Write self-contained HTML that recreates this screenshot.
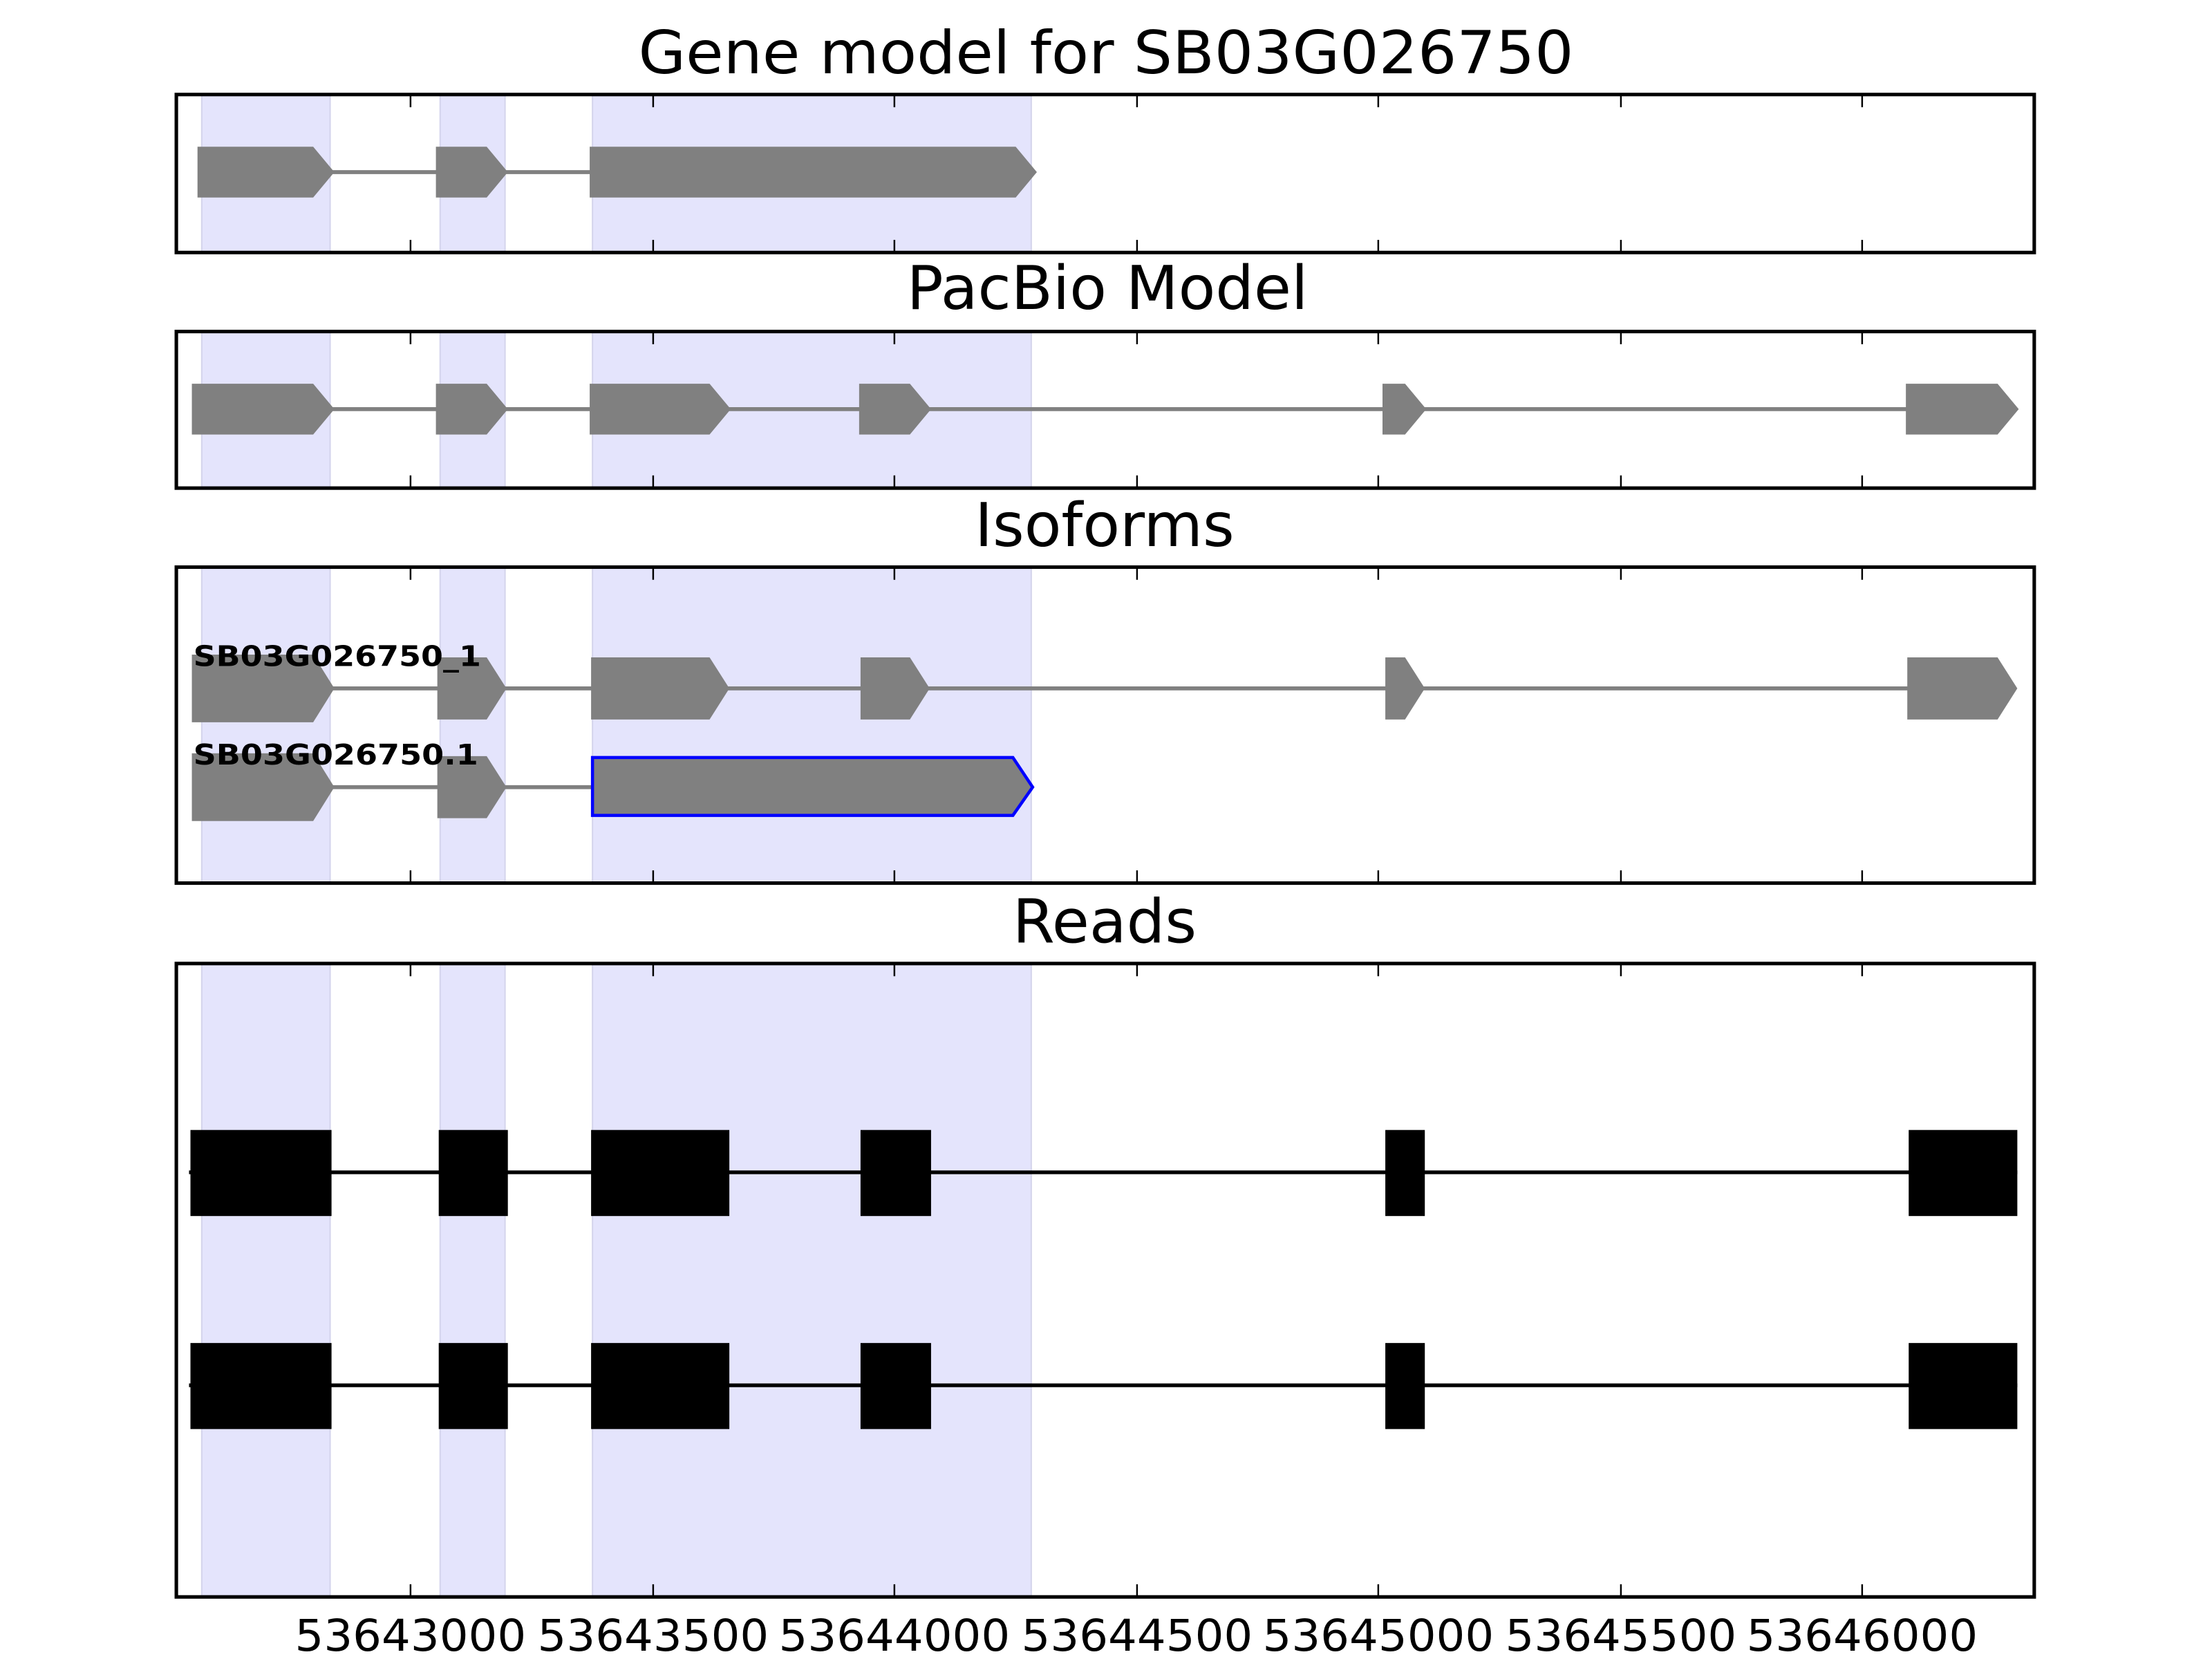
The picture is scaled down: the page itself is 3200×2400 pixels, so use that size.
<!DOCTYPE html>
<html><head><meta charset="utf-8"><style>html,body{margin:0;padding:0;background:#fff}svg{display:block}</style></head>
<body>
<svg width="3200" height="2400" viewBox="0 0 1568 1176" xmlns="http://www.w3.org/2000/svg" font-family="DejaVu Sans, Liberation Sans, sans-serif">
<!-- titles -->
<text x="784" y="52" font-size="42" text-anchor="middle" textLength="663" lengthAdjust="spacingAndGlyphs">Gene model for SB03G026750</text>
<text x="785" y="219" font-size="43" text-anchor="middle">PacBio Model</text>
<text x="783" y="387" font-size="43" text-anchor="middle">Isoforms</text>
<text x="783" y="668" font-size="43" text-anchor="middle">Reads</text>

<!-- bands -->
<g fill="#e4e4fc" stroke="#d4d4ec" stroke-width="1">
<rect x="143" y="67" width="91" height="112"/><rect x="312" y="67" width="46" height="112"/><rect x="420" y="67" width="311" height="112"/>
<rect x="143" y="235" width="91" height="111"/><rect x="312" y="235" width="46" height="111"/><rect x="420" y="235" width="311" height="111"/>
<rect x="143" y="402" width="91" height="224"/><rect x="312" y="402" width="46" height="224"/><rect x="420" y="402" width="311" height="224"/>
<rect x="143" y="683" width="91" height="449"/><rect x="312" y="683" width="46" height="449"/><rect x="420" y="683" width="311" height="449"/>
</g>

<!-- panel 1 -->
<g fill="#808080">
<line x1="230" y1="122" x2="420" y2="122" stroke="#808080" stroke-width="2.8"/>
<polygon points="140,104 222,104 237,122 222,140 140,140"/>
<polygon points="309,104 345,104 360,122 345,140 309,140"/>
<polygon points="418,104 720,104 735,122 720,140 418,140"/>
</g>
<!-- panel 2 -->
<g fill="#808080">
<line x1="230" y1="290" x2="1360" y2="290" stroke="#808080" stroke-width="2.8"/>
<polygon points="136,272 222,272 237,290 222,308 136,308"/>
<polygon points="309,272 345,272 360,290 345,308 309,308"/>
<polygon points="418,272 503,272 518,290 503,308 418,308"/>
<polygon points="609,272 645,272 660,290 645,308 609,308"/>
<polygon points="980,272 996,272 1011,290 996,308 980,308"/>
<polygon points="1351,272 1416,272 1431,290 1416,308 1351,308"/>
</g>
<!-- panel 3 -->
<g fill="#808080">
<line x1="230" y1="488" x2="1360" y2="488" stroke="#808080" stroke-width="2.8"/>
<polygon points="136,464 222,464 237,488 222,512 136,512"/>
<polygon points="310,466 345,466 359,488 345,510 310,510"/>
<polygon points="419,466 503,466 517,488 503,510 419,510"/>
<polygon points="610,466 645,466 659,488 645,510 610,510"/>
<polygon points="982,466 996,466 1010,488 996,510 982,510"/>
<polygon points="1352,466 1416,466 1430,488 1416,510 1352,510"/>
<line x1="230" y1="558" x2="422" y2="558" stroke="#808080" stroke-width="2.8"/>
<polygon points="136,534 222,534 237,558 222,582 136,582"/>
<polygon points="310,536 345,536 359,558 345,580 310,580"/>
<polygon points="420,537 718,537 732,558 718,578 420,578" stroke="#0000ff" stroke-width="2.2"/>
</g>
<text x="137" y="472" font-size="20" font-weight="bold" textLength="204" lengthAdjust="spacingAndGlyphs">SB03G026750_1</text>
<text x="137" y="542" font-size="20" font-weight="bold" textLength="202" lengthAdjust="spacingAndGlyphs">SB03G026750.1</text>

<!-- panel 4 reads -->
<g fill="#000">
<line x1="134" y1="831" x2="1430" y2="831" stroke="#000" stroke-width="2.6"/>
<rect x="135" y="801" width="100" height="61"/><rect x="311" y="801" width="49" height="61"/><rect x="419" y="801" width="98" height="61"/><rect x="610" y="801" width="50" height="61"/><rect x="982" y="801" width="28" height="61"/><rect x="1353" y="801" width="77" height="61"/>
<line x1="134" y1="982" x2="1430" y2="982" stroke="#000" stroke-width="2.6"/>
<rect x="135" y="952" width="100" height="61"/><rect x="311" y="952" width="49" height="61"/><rect x="419" y="952" width="98" height="61"/><rect x="610" y="952" width="50" height="61"/><rect x="982" y="952" width="28" height="61"/><rect x="1353" y="952" width="77" height="61"/>
</g>

<!-- ticks -->
<g stroke="#000" stroke-width="1.2">
<path d="M291,67v9M463,67v9M634,67v9M806,67v9M977,67v9M1149,67v9M1320,67v9 M291,179v-9M463,179v-9M634,179v-9M806,179v-9M977,179v-9M1149,179v-9M1320,179v-9"/>
<path d="M291,235v9M463,235v9M634,235v9M806,235v9M977,235v9M1149,235v9M1320,235v9 M291,346v-9M463,346v-9M634,346v-9M806,346v-9M977,346v-9M1149,346v-9M1320,346v-9"/>
<path d="M291,402v9M463,402v9M634,402v9M806,402v9M977,402v9M1149,402v9M1320,402v9 M291,626v-9M463,626v-9M634,626v-9M806,626v-9M977,626v-9M1149,626v-9M1320,626v-9"/>
<path d="M291,683v9M463,683v9M634,683v9M806,683v9M977,683v9M1149,683v9M1320,683v9 M291,1132v-9M463,1132v-9M634,1132v-9M806,1132v-9M977,1132v-9M1149,1132v-9M1320,1132v-9"/>
</g>

<!-- frames -->
<g fill="none" stroke="#000" stroke-width="2.5">
<rect x="125" y="67" width="1317" height="112"/>
<rect x="125" y="235" width="1317" height="111"/>
<rect x="125" y="402" width="1317" height="224"/>
<rect x="125" y="683" width="1317" height="449"/>
</g>

<!-- tick labels -->
<g font-size="31" text-anchor="middle">
<text x="291" y="1170" textLength="164" lengthAdjust="spacingAndGlyphs">53643000</text>
<text x="463" y="1170" textLength="164" lengthAdjust="spacingAndGlyphs">53643500</text>
<text x="634" y="1170" textLength="164" lengthAdjust="spacingAndGlyphs">53644000</text>
<text x="806" y="1170" textLength="164" lengthAdjust="spacingAndGlyphs">53644500</text>
<text x="977" y="1170" textLength="164" lengthAdjust="spacingAndGlyphs">53645000</text>
<text x="1149" y="1170" textLength="164" lengthAdjust="spacingAndGlyphs">53645500</text>
<text x="1320" y="1170" textLength="164" lengthAdjust="spacingAndGlyphs">53646000</text>
</g>
</svg>
</body></html>
